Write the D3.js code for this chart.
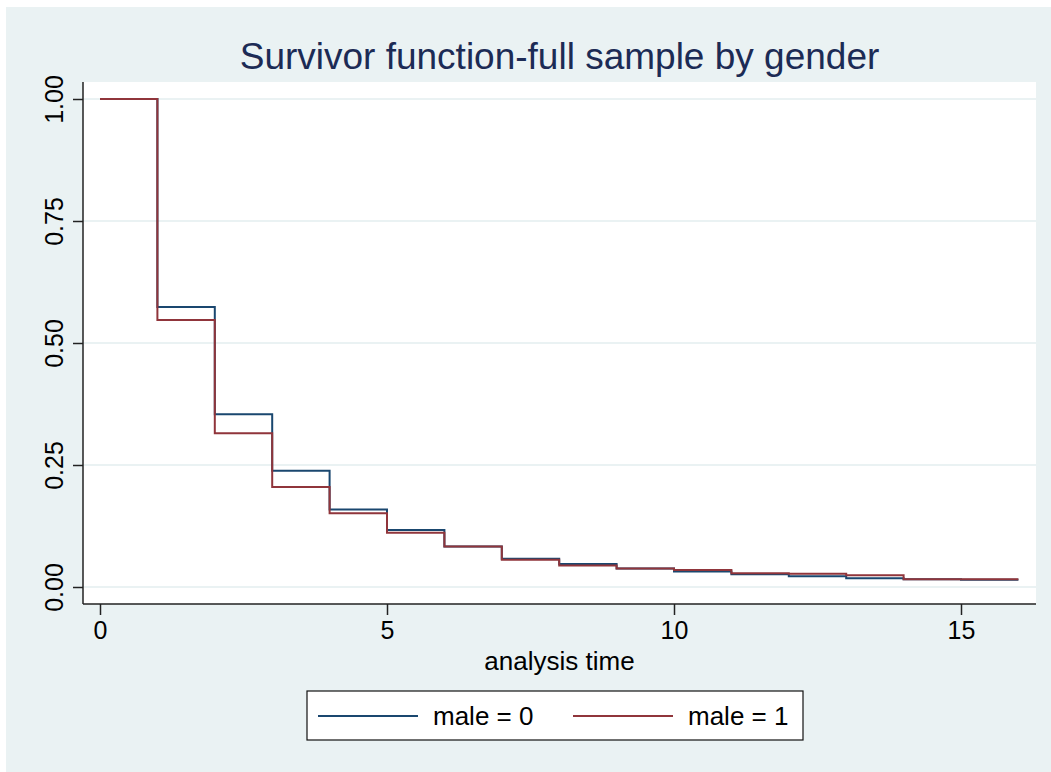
<!DOCTYPE html>
<html>
<head>
<meta charset="utf-8">
<script src="https://cdn.jsdelivr.net/npm/d3@7"></script>
<style>
  html, body { margin: 0; padding: 0; background: #fff; }
  svg text { font-family: "Liberation Sans", Arial, sans-serif; }
</style>
</head>
<body>
<svg id="chart" width="1051" height="772"></svg>
<script>
// Kaplan-Meier survivor estimates, one value per unit of analysis time
const times = [0, 1, 2, 3, 4, 5, 6, 7, 8, 9, 10, 11, 12, 13, 14, 15, 16];
const male0 = [1.00, 0.574, 0.354, 0.238, 0.159, 0.117, 0.083, 0.058, 0.047, 0.038, 0.032, 0.026, 0.022, 0.018, 0.016, 0.015, 0.015];
const male1 = [1.00, 0.547, 0.315, 0.205, 0.151, 0.111, 0.083, 0.056, 0.044, 0.038, 0.035, 0.028, 0.027, 0.024, 0.016, 0.016, 0.016];
const xTicks = [0, 5, 10, 15];
const yTicks = [0, 0.25, 0.5, 0.75, 1];
const seriesNames = ['male = 0', 'male = 1'];
const seriesColors = ['#1a476f', '#90353b'];

const svg = d3.select('#chart');

// outer graph region
svg.append('rect')
    .attr('x', 6).attr('y', 7)
    .attr('width', 1051 - 6).attr('height', 772 - 7)
    .attr('fill', '#eaf2f3');

const plot = {left: 83, right: 1036, top: 82, bottom: 604};

svg.append('rect')
    .attr('x', plot.left).attr('y', plot.top)
    .attr('width', plot.right - plot.left).attr('height', plot.bottom - plot.top)
    .attr('fill', '#ffffff');

const x = d3.scaleLinear().domain([0, 15]).range([100, 961]);
const y = d3.scaleLinear().domain([0, 1]).range([587, 99]);

// gridlines
svg.append('g')
    .selectAll('line')
    .data(yTicks)
    .join('line')
    .attr('x1', plot.left).attr('x2', plot.right)
    .attr('y1', d => y(d)).attr('y2', d => y(d))
    .attr('stroke', '#eaf2f3')
    .attr('stroke-width', 2);

// axes
const yAxis = d3.axisLeft(y)
    .tickValues(yTicks)
    .tickFormat(d3.format('.2f'))
    .tickSize(10)
    .tickSizeOuter(0);

const gy = svg.append('g')
    .attr('transform', `translate(${plot.left},0)`)
    .call(yAxis);
gy.select('.domain').attr('d', `M0,${plot.top}V${plot.bottom}`);
gy.selectAll('text')
    .attr('font-size', 25)
    .attr('fill', '#000')
    .attr('x', 0)
    .attr('y', 0)
    .attr('dy', 0)
    .attr('transform', 'translate(-20,0) rotate(-90)')
    .attr('text-anchor', 'middle');

const xAxis = d3.axisBottom(x)
    .tickValues(xTicks)
    .tickFormat(d3.format('d'))
    .tickSize(11)
    .tickSizeOuter(0)
    .tickPadding(6);

const gx = svg.append('g')
    .attr('transform', `translate(0,${plot.bottom})`)
    .call(xAxis);
gx.select('.domain').attr('d', `M${plot.left},0H${plot.right}`);
gx.selectAll('text')
    .attr('font-size', 25)
    .attr('fill', '#000');

svg.selectAll('.domain').attr('stroke', '#222').attr('stroke-width', 1.5);
svg.selectAll('.tick line').attr('stroke', '#222').attr('stroke-width', 1.5);

// survival curves
const line = d3.line()
    .x(d => x(d[0]))
    .y(d => y(d[1]))
    .curve(d3.curveStepAfter);

[male0, male1].forEach((vals, i) => {
    svg.append('path')
        .datum(times.map((t, j) => [t, vals[j]]))
        .attr('d', line)
        .attr('fill', 'none')
        .attr('stroke', seriesColors[i])
        .attr('stroke-width', 2);
});

// titles
svg.append('text')
    .attr('x', (plot.left + plot.right) / 2)
    .attr('y', 69)
    .attr('text-anchor', 'middle')
    .attr('font-size', 37)
    .attr('fill', '#1c2b55')
    .text('Survivor function-full sample by gender');

svg.append('text')
    .attr('x', (plot.left + plot.right) / 2)
    .attr('y', 670)
    .attr('text-anchor', 'middle')
    .attr('font-size', 26)
    .attr('fill', '#000')
    .text('analysis time');

// legend
const legend = svg.append('g');
legend.append('rect')
    .attr('x', 307).attr('y', 691)
    .attr('width', 496).attr('height', 49)
    .attr('fill', '#fff')
    .attr('stroke', '#111')
    .attr('stroke-width', 1.2);

const legX = [318, 573];
seriesNames.forEach((name, i) => {
    legend.append('line')
        .attr('x1', legX[i]).attr('x2', legX[i] + 100)
        .attr('y1', 716).attr('y2', 716)
        .attr('stroke', seriesColors[i])
        .attr('stroke-width', 2);
    legend.append('text')
        .attr('x', legX[i] + 115)
        .attr('y', 725)
        .attr('font-size', 26)
        .attr('fill', '#000')
        .text(name);
});
</script>
</body>
</html>
